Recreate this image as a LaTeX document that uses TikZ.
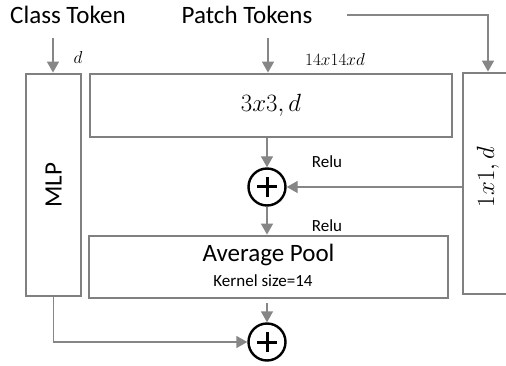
\documentclass[tikz,border=0pt]{standalone}
\usepackage{fontspec}
\setmainfont{Carlito}
\usetikzlibrary{arrows.meta,calc}
\begin{document}
\begin{tikzpicture}[x=1pt,y=-1pt,
  box/.style={draw=gray, line width=2.8pt, inner sep=0pt, align=center},
  conn/.style={draw=gray!95, line width=1.4pt, -{Triangle[width=12pt,length=11pt]}},
  plain/.style={draw=gray!95, line width=1.4pt},
  big/.style={font=\fontsize{25}{28}\selectfont},
  small/.style={font=\fontsize{17}{19}\selectfont},
  plusnode/.style={circle, draw=black, line width=2.4pt, minimum size=37pt, inner sep=0pt,
    path picture={
      \draw[line width=3pt] ([xshift=-10pt]path picture bounding box.center) -- ([xshift=10pt]path picture bounding box.center);
      \draw[line width=3pt] ([yshift=-10pt]path picture bounding box.center) -- ([yshift=10pt]path picture bounding box.center);
    }}
]
\useasboundingbox (0,0) rectangle (506,366);
\clip (0,0) rectangle (506,366);

% titles
\node[big] (classtok) at (68,15) {Class Token};
\node[big] (patchtok) at (247,15) {Patch Tokens};

% boxes
\node[box, minimum width=55pt, minimum height=222pt] (mlp) at (53.5,185) {};
\node[big, rotate=90] (mlptxt) at (mlp.center) {MLP};
\node[box, minimum width=362pt, minimum height=63pt, big] (conv3) at (271,105.5) {$3x3, d$};
\node[box, minimum width=50pt, minimum height=221pt] (conv1) at (488,183.5) {};
\node[big, rotate=90] (conv1txt) at (488,177) {$1x1, d$};
\node[box, minimum width=359pt, minimum height=62pt] (pool) at (268.5,267) {};
\node[big] (pooltxt) at (268.5,255) {Average Pool};
\node[font=\fontsize{17}{19}\selectfont] (kerneltxt) at (263,281) {Kernel size=14};

% adders
\node[plusnode] (plus1) at (267,187) {};
\node[plusnode] (plus2) at (267,342) {};

% labels
\node[small] (dlab) at (78,58) {$d$};
\node[small] (sizelab) at (335,60) {$14x14xd$};
\node[small] (relu1) at (327,162) {Relu};
\node[small] (relu2) at (327,226) {Relu};

% connectors
\coordinate (c0) at (53,38);
\coordinate (p0) at (268,38);
\coordinate (r0) at (347,15);
\draw[conn] (c0) -- (c0 |- mlp.north);
\draw[conn] (p0) -- (p0 |- conv3.north);
\draw[conn] (r0) -| (conv1.north);
\draw[conn] (plus1 |- conv3.south) -- (plus1.north);
\draw[conn] (conv1.west |- plus1) -- (plus1.east);
\draw[conn] (plus1.south) -- (plus1 |- pool.north);
\draw[conn, shorten <=4pt] (plus1 |- pool.south) -- (plus2.north);
\draw[conn] (mlp.south) |- (plus2.west);
\end{tikzpicture}
\end{document}
